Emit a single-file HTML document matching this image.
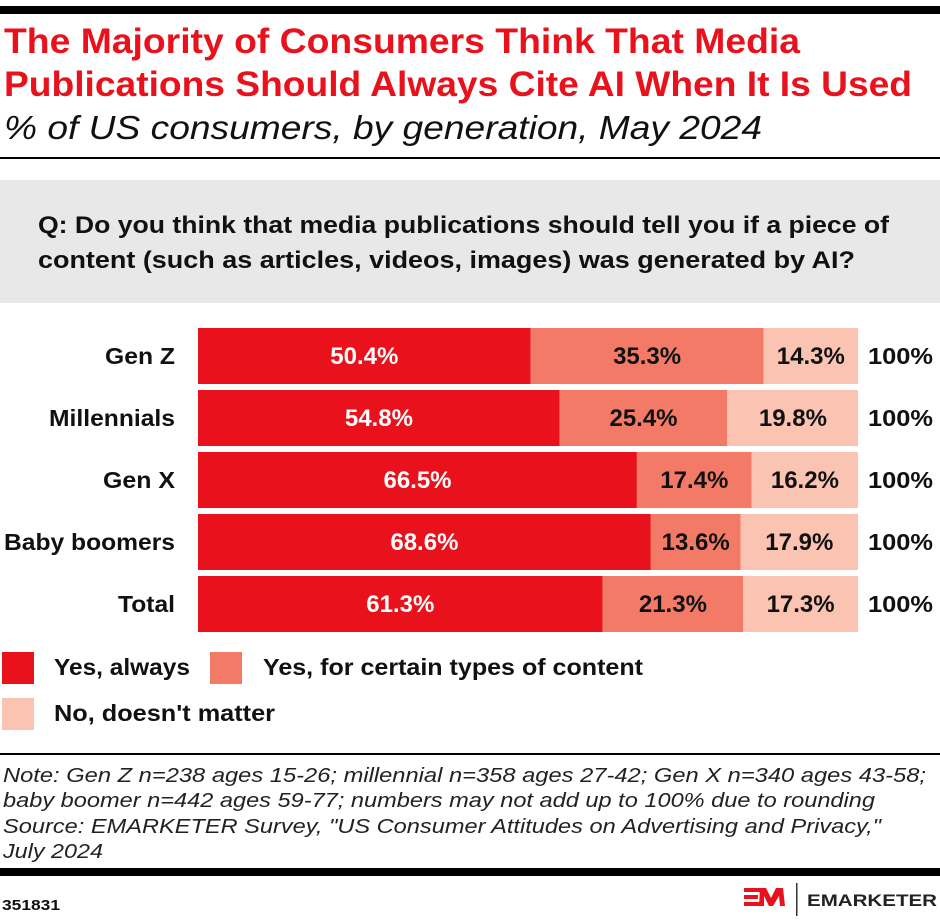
<!DOCTYPE html>
<html>
<head>
<meta charset="utf-8">
<style>
html,body{margin:0;padding:0;background:#fff;}
svg{display:block;}
text{font-family:"Liberation Sans",Arial,sans-serif;}
</style>
</head>
<body>
<svg width="940" height="924" viewBox="0 0 940 924" xmlns="http://www.w3.org/2000/svg">
  <rect x="0" y="0" width="940" height="924" fill="#fff"/>
  <!-- top bar -->
  <rect x="0" y="6" width="940" height="8" fill="#000"/>
  <!-- title -->
  <text x="4" y="53" font-size="35" font-weight="700" fill="#E8111C" textLength="796" lengthAdjust="spacingAndGlyphs">The Majority of Consumers Think That Media</text>
  <text x="4" y="96" font-size="35" font-weight="700" fill="#E8111C" textLength="908" lengthAdjust="spacingAndGlyphs">Publications Should Always Cite AI When It Is Used</text>
  <text x="4" y="139" font-size="33" font-style="italic" fill="#111" textLength="758" lengthAdjust="spacingAndGlyphs">% of US consumers, by generation, May 2024</text>
  <rect x="0" y="157" width="940" height="2" fill="#000"/>
  <!-- question box -->
  <rect x="0" y="180" width="940" height="123" fill="#E8E8E8"/>
  <text x="38" y="233" font-size="24" font-weight="700" fill="#111" textLength="851" lengthAdjust="spacingAndGlyphs">Q: Do you think that media publications should tell you if a piece of</text>
  <text x="38" y="268" font-size="24" font-weight="700" fill="#111" textLength="817" lengthAdjust="spacingAndGlyphs">content (such as articles, videos, images) was generated by AI?</text>

  <!-- bars -->
  <g>
    <rect x="198" y="328" width="332.6" height="56" fill="#E8111C"/>
    <rect x="530.6" y="328" width="233" height="56" fill="#F37A67"/>
    <rect x="763.6" y="328" width="94.4" height="56" fill="#FBC3B2"/>
    <rect x="198" y="390" width="361.7" height="56" fill="#E8111C"/>
    <rect x="559.7" y="390" width="167.6" height="56" fill="#F37A67"/>
    <rect x="727.3" y="390" width="130.7" height="56" fill="#FBC3B2"/>
    <rect x="198" y="452" width="438.9" height="56" fill="#E8111C"/>
    <rect x="636.9" y="452" width="114.8" height="56" fill="#F37A67"/>
    <rect x="751.7" y="452" width="106.3" height="56" fill="#FBC3B2"/>
    <rect x="198" y="514" width="452.8" height="56" fill="#E8111C"/>
    <rect x="650.8" y="514" width="89.7" height="56" fill="#F37A67"/>
    <rect x="740.5" y="514" width="117.5" height="56" fill="#FBC3B2"/>
    <rect x="198" y="576" width="404.6" height="56" fill="#E8111C"/>
    <rect x="602.6" y="576" width="140.6" height="56" fill="#F37A67"/>
    <rect x="743.2" y="576" width="114.8" height="56" fill="#FBC3B2"/>
  </g>

  <!-- category labels -->
  <g font-size="23" font-weight="700" fill="#111">
    <text x="105" y="364" textLength="70" lengthAdjust="spacingAndGlyphs">Gen Z</text>
    <text x="49" y="426" textLength="126" lengthAdjust="spacingAndGlyphs">Millennials</text>
    <text x="103" y="488" textLength="72" lengthAdjust="spacingAndGlyphs">Gen X</text>
    <text x="4" y="550" textLength="171" lengthAdjust="spacingAndGlyphs">Baby boomers</text>
    <text x="118" y="612" textLength="57" lengthAdjust="spacingAndGlyphs">Total</text>
  </g>

  <!-- value labels -->
  <g font-size="24" font-weight="700" text-anchor="middle">
    <text x="364.3" y="364" fill="#fff">50.4%</text>
    <text x="647.1" y="364" fill="#111">35.3%</text>
    <text x="810.8" y="364" fill="#111">14.3%</text>

    <text x="378.9" y="426" fill="#fff">54.8%</text>
    <text x="643.5" y="426" fill="#111">25.4%</text>
    <text x="792.9" y="426" fill="#111">19.8%</text>

    <text x="417.5" y="488" fill="#fff">66.5%</text>
    <text x="694.3" y="488" fill="#111">17.4%</text>
    <text x="804.9" y="488" fill="#111">16.2%</text>

    <text x="424.4" y="550" fill="#fff">68.6%</text>
    <text x="695.7" y="550" fill="#111">13.6%</text>
    <text x="799.3" y="550" fill="#111">17.9%</text>

    <text x="400.3" y="612" fill="#fff">61.3%</text>
    <text x="672.9" y="612" fill="#111">21.3%</text>
    <text x="800.6" y="612" fill="#111">17.3%</text>
  </g>
  <g font-size="23" font-weight="700" fill="#111">
    <text x="868" y="364" textLength="65" lengthAdjust="spacingAndGlyphs">100%</text>
    <text x="868" y="426" textLength="65" lengthAdjust="spacingAndGlyphs">100%</text>
    <text x="868" y="488" textLength="65" lengthAdjust="spacingAndGlyphs">100%</text>
    <text x="868" y="550" textLength="65" lengthAdjust="spacingAndGlyphs">100%</text>
    <text x="868" y="612" textLength="65" lengthAdjust="spacingAndGlyphs">100%</text>
  </g>

  <!-- legend -->
  <rect x="2" y="652" width="32" height="32" fill="#E8111C"/>
  <text x="54" y="675" font-size="23" font-weight="700" fill="#111" textLength="136" lengthAdjust="spacingAndGlyphs">Yes, always</text>
  <rect x="210" y="652" width="32" height="32" fill="#F37A67"/>
  <text x="263" y="675" font-size="23" font-weight="700" fill="#111" textLength="380" lengthAdjust="spacingAndGlyphs">Yes, for certain types of content</text>
  <rect x="2" y="698" width="32" height="32" fill="#FBC3B2"/>
  <text x="54" y="721" font-size="23" font-weight="700" fill="#111" textLength="221" lengthAdjust="spacingAndGlyphs">No, doesn't matter</text>

  <!-- note -->
  <rect x="0" y="753" width="940" height="2" fill="#000"/>
  <g font-size="20" font-style="italic" fill="#222">
    <text x="3" y="782" textLength="923" lengthAdjust="spacingAndGlyphs">Note: Gen Z n=238 ages 15-26; millennial n=358 ages 27-42; Gen X n=340 ages 43-58;</text>
    <text x="3" y="807" textLength="872" lengthAdjust="spacingAndGlyphs">baby boomer n=442 ages 59-77; numbers may not add up to 100% due to rounding</text>
    <text x="3" y="833" textLength="878" lengthAdjust="spacingAndGlyphs">Source: EMARKETER Survey, "US Consumer Attitudes on Advertising and Privacy,"</text>
    <text x="3" y="858" textLength="100" lengthAdjust="spacingAndGlyphs">July 2024</text>
  </g>

  <!-- bottom bar -->
  <rect x="0" y="868" width="940" height="8" fill="#000"/>
  <text x="2" y="910" font-size="15" font-weight="700" fill="#111" textLength="58" lengthAdjust="spacingAndGlyphs">351831</text>

  <!-- logo -->
  <g fill="#E8111C">
    <rect x="744" y="888" width="16" height="4"/>
    <rect x="744" y="895" width="14" height="4"/>
    <rect x="744" y="902" width="16" height="4"/>
    <polygon points="759,906 760,888 766,888 771,898 776,888 783,888 785,906 780,906 779,896 773,906 769,906 764,896 764,906"/>
  </g>
  <rect x="796" y="883" width="1.5" height="33" fill="#333"/>
  <text x="807" y="906" font-size="17" font-weight="700" fill="#222" textLength="130" lengthAdjust="spacingAndGlyphs">EMARKETER</text>
</svg>
</body>
</html>
